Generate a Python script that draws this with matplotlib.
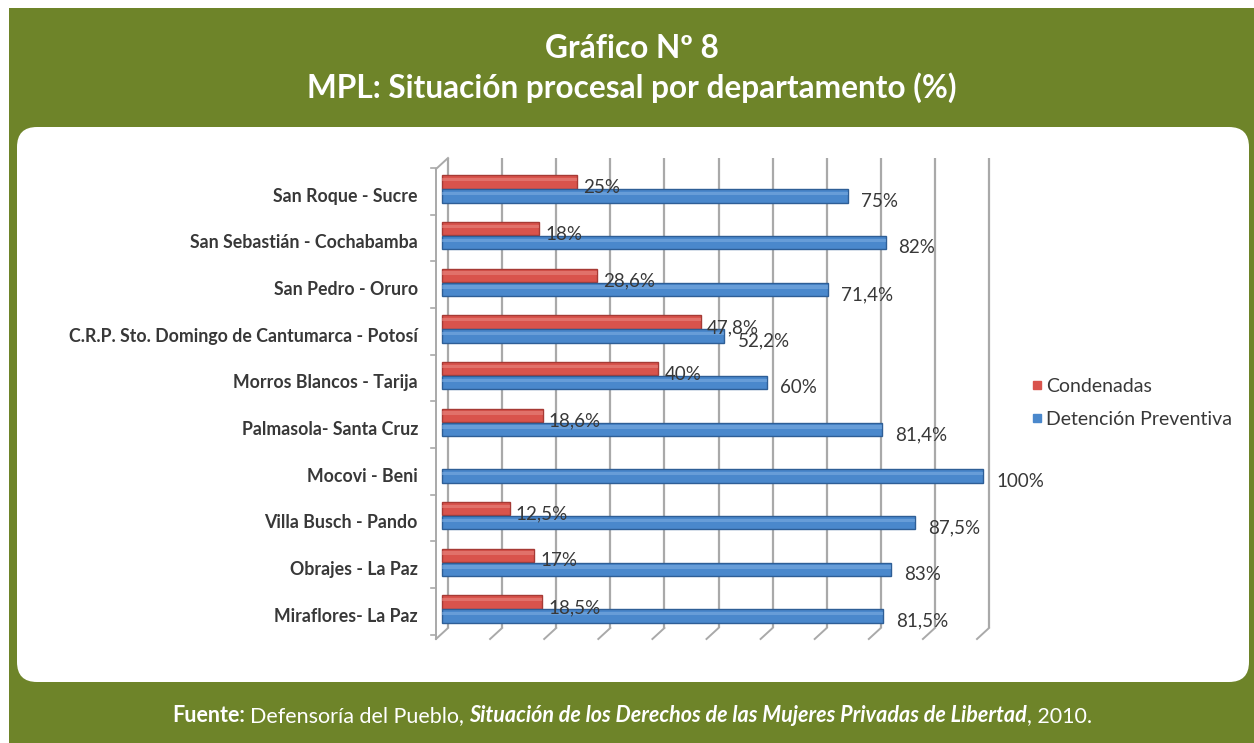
import numpy as np
import matplotlib
matplotlib.use("Agg")
import matplotlib.pyplot as plt
from matplotlib.patches import Rectangle, FancyBboxPatch
from matplotlib.lines import Line2D
import matplotlib.transforms as mtransforms

# --- data ---
centros = ["San Roque - Sucre", "San Sebastián - Cochabamba", "San Pedro - Oruro",
           "C.R.P. Sto. Domingo de Cantumarca - Potosí", "Morros Blancos - Tarija",
           "Palmasola- Santa Cruz", "Mocovi - Beni", "Villa Busch - Pando",
           "Obrajes - La Paz", "Miraflores- La Paz"]
condenadas = [25, 18, 28.6, 47.8, 40, 18.6, 0, 12.5, 17, 18.5]
preventiva = [75, 82, 71.4, 52.2, 60, 81.4, 100, 87.5, 83, 81.5]
series_names = ["Condenadas", "Detención Preventiva"]

GREEN = "#6E8429"
RED, RED_E, RED_L = "#D9534C", "#A63A35", "#E98A84"
BLUE, BLUE_E, BLUE_L = "#4A88CC", "#2E5E96", "#7FB0E3"
GRID = "#A9A9A9"
TXT = "#383838"
FONT = "Lato"

W, H = 1254, 743
fig = plt.figure(figsize=(W / 100, H / 100), dpi=100)
fig.patch.set_facecolor("white")

# background frame in pixel coordinates
bg = fig.add_axes([0, 0, 1, 1])
bg.set_xlim(0, W)
bg.set_ylim(H, 0)
bg.axis("off")
bg.add_patch(Rectangle((9, 8), W - 9, H - 8, color=GREEN, lw=0))
bg.add_patch(FancyBboxPatch((17 + 20, 127 + 20), 1249 - 17 - 40, 682 - 127 - 40,
                            boxstyle="round,pad=20", fc="white", ec="none"))

fig.text(632 / W, 1 - 48 / H, "Gráfico Nº 8", ha="center", va="center",
         color="white", fontsize=22.8, fontweight="bold", family=FONT)
fig.text(632 / W, 1 - 88 / H, "MPL: Situación procesal por departamento (%)",
         ha="center", va="center", color="white", fontsize=22.8,
         fontweight="bold", family=FONT)

# --- chart axes: front plane x 0..100 -> px 436..977 ---
x0, x1 = 436, 977
py0, pstep = 189, 46.67          # pixel y of first category, spacing
top_px, bot_px = 140, 650
ax = fig.add_axes([x0 / W, 1 - bot_px / H, (x1 - x0) / W, (bot_px - top_px) / H])
ax.set_xlim(0, 100)
ax.set_ylim((bot_px - py0) / pstep, (top_px - py0) / pstep)
ax.patch.set_alpha(0)
for s in ax.spines.values():
    s.set_visible(False)

sx = (x1 - x0) / 100.0           # px per x unit
DX, DY = 12 / sx, 11 / pstep     # depth of the 3D box in data units
y_floor = (639 - py0) / pstep
y_top = (169 - py0) / pstep

ticks = np.arange(0, 101, 10)
for v in ticks:
    # back wall gridline
    ax.plot([v + DX, v + DX], [y_floor - DY, y_top - DY], color=GRID, lw=1.6,
            solid_capstyle="butt", zorder=1, clip_on=False)
    # floor tick
    ax.plot([v, v + DX], [y_floor, y_floor - DY], color=GRID, lw=1.4, zorder=1,
            clip_on=False)
# left wall
ax.plot([0, 0], [y_floor, y_top], color=GRID, lw=1.4, zorder=1, clip_on=False)
ax.plot([0, DX], [y_top, y_top - DY], color=GRID, lw=1.4, zorder=1, clip_on=False)
yy = np.arange(len(centros))
for b in np.append(yy - 0.5, yy[-1] + 0.5):
    ax.plot([-0.9, 0], [b + 0.05, b + 0.05], color=GRID, lw=1.2, zorder=1,
            clip_on=False)

# bars (mid depth) with a light stripe for the cylinder look
bar_tr = mtransforms.offset_copy(ax.transData, fig=fig, x=6, y=0, units="dots")
h = 0.29
bars = []
for off, vals, fc, ec, lc in [(-0.15, condenadas, RED, RED_E, RED_L),
                              (0.15, preventiva, BLUE, BLUE_E, BLUE_L)]:
    lw = [1.0 if v > 0 else 0 for v in vals]
    bars += list(ax.barh(yy + off, vals, height=h, color=fc, edgecolor=ec,
                         lw=lw, transform=bar_tr, zorder=3))
    bars += list(ax.barh(yy + off - 0.05, vals, height=0.07, color=lc,
                         lw=0, alpha=0.55, transform=bar_tr, zorder=3.5))
for p in bars:
    p.set_clip_on(False)


def fmt(v):
    s = f"{v:g}".replace(".", ",")
    return s + "%"


lab_tr_r = mtransforms.offset_copy(ax.transData, fig=fig, x=12, y=0, units="dots")
lab_tr_b = mtransforms.offset_copy(ax.transData, fig=fig, x=19, y=0, units="dots")
for i in yy:
    if condenadas[i] > 0:
        ax.text(condenadas[i], i - 0.15 + 0.12, fmt(condenadas[i]),
                transform=lab_tr_r, ha="left", va="center", fontsize=13.5,
                color=TXT, family=FONT, zorder=4)
    ax.text(preventiva[i], i + 0.15 + 0.11, fmt(preventiva[i]),
            transform=lab_tr_b, ha="left", va="center", fontsize=13.5,
            color=TXT, family=FONT, zorder=4)

ax.set_xticks([])
ax.set_yticks(yy + 0.12)
ax.set_yticklabels(centros, fontsize=12.8, color=TXT, family=FONT, fontweight="bold")
ax.tick_params(axis="y", length=0, pad=13)

handles = [Line2D([], [], marker="s", ls="none", ms=6, color=RED),
           Line2D([], [], marker="s", ls="none", ms=6, color=BLUE)]
fig.legend(handles, series_names, loc="center left",
           bbox_to_anchor=(1024 / W, 1 - 403 / H), frameon=False,
           prop={"family": FONT, "size": 14}, labelcolor=TXT,
           handlelength=0.5, handletextpad=0.25, labelspacing=0.85,
           borderaxespad=0)

# --- footer with mixed styles ---
parts = [("Fuente:", "bold", "normal"),
         ("Defensoría del Pueblo,", "normal", "normal"),
         ("Situación de los Derechos de las Mujeres Privadas de Libertad", "bold", "italic"),
         (", 2010.", "normal", "normal")]
gaps = [5, 5, 0, 0]
fy = 1 - 716 / H
texts = [fig.text(0, fy, t, ha="left", va="center", color="white", fontsize=15.5,
                  fontweight=w, fontstyle=st, family=FONT) for t, w, st in parts]
r = fig.canvas.get_renderer()
widths = [t.get_window_extent(renderer=r).width for t in texts]
total = sum(widths) + sum(gaps)
x = 632 - total / 2
for t, wd, g in zip(texts, widths, gaps):
    t.set_x(x / W)
    x += wd + g

fig.savefig("out.png", dpi=100)
